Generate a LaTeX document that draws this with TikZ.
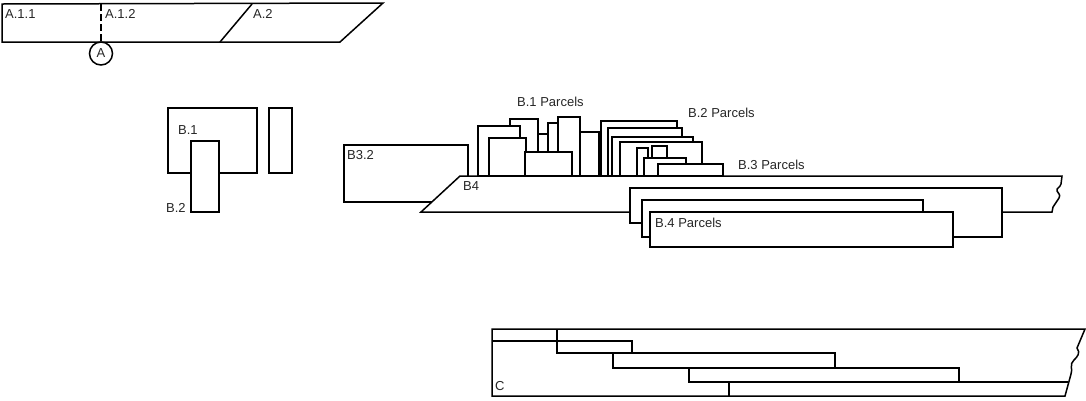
\documentclass[tikz,border=0pt]{standalone}
\usepackage{fontspec}
\setmainfont{Liberation Sans}
\usepackage{tikz}
\usetikzlibrary{calc}

\begin{document}
\begin{tikzpicture}[x=1pt,y=-1pt,
  edge/.style={line width=\LW},
  parcel/.style={draw,fill=white,line width=\LW},
  tag/.style={anchor=west,inner sep=0pt,text=black!85,
    font=\fontsize{13}{14}\selectfont}]
  % 単位は pt(画像の px と同じ)
  \def\LW{1.5pt}  % 線幅
  \def\Base{176}  % B4 上辺(区画の底)

  \useasboundingbox (0,0) rectangle (1086,400);

  % A 区画
  \draw[edge] (2,4) -- (383,3) -- (340,42) -- (2,42) -- cycle;
  \draw[edge] (252,4) -- (220,42);
  \node[draw,circle,line width=\LW,minimum size=23pt,inner sep=0pt,
    text=black!85,font=\fontsize{13}{14}\selectfont] (pA) at (101,53.5) {A};
  \coordinate (aTop) at (101,4);
  \draw[edge,dash pattern=on 7pt off 3pt] (aTop) -- (pA);
  \node[tag] (a11) at (5,14)   {A.1.1};
  \node[tag] (a12) at (105,14) {A.1.2};
  \node[tag] (a2)  at (253,14) {A.2};

  % B.1 / B.2
  \filldraw[parcel] (168,108) rectangle (257,173);
  \filldraw[parcel] (191,141) rectangle (219,212);
  \filldraw[parcel] (269,108) rectangle (292,173);
  \node[tag] (b1) at (178,130) {B.1};
  \node[tag] (b2) at (166,208) {B.2};

  % B3.2 と B4(右端は破断線)
  \filldraw[parcel] (344,145) rectangle (468,202);
  \filldraw[parcel] (460,\Base) -- (1062,\Base) -- (1061,184)
    .. controls (1060,188) and (1056,188) .. (1057,191)
    .. controls (1058,194) and (1061,194) .. (1059,198)
    -- (1053,207) -- (1052,212) -- (421,212) -- cycle;
  \node[tag] (b32) at (347,155) {B3.2};
  \node[tag] (b4)  at (463,186) {B4};

  % B.1 Parcels(奥から順に)
  \foreach \xa/\ya/\xb in {510/119/538, 538/134/548, 548/123/558,
      558/117/580, 580/132/599, 478/126/520, 489/138/526, 525/152/572}
    \filldraw[parcel] (\xa,\ya) rectangle (\xb,\Base);

  % B.2 / B.3 Parcels
  \foreach \xa/\ya/\xb in {601/121/677, 608/128/682, 612/137/693,
      620/142/702, 637/148/648, 652/146/667, 644/158/686, 658/164/723}
    \filldraw[parcel] (\xa,\ya) rectangle (\xb,\Base);

  \node[tag] (pB1) at (517,102) {B.1 Parcels};
  \node[tag] (pB2) at (688,113) {B.2 Parcels};
  \node[tag] (pB3) at (738,165) {B.3 Parcels};

  % B.4 Parcels
  \filldraw[parcel] (630,188) -- (1002,188) -- (1002,237) -- (642,237)
    -- (642,223) -- (630,223) -- cycle;
  \filldraw[parcel] (642,200) rectangle (923,237);
  \filldraw[parcel] (650,212) rectangle (953,247);
  \node[tag] (pB4) at (655,223) {B.4 Parcels};

  % C
  \draw[edge] (492,329) -- (1085,329) -- (1077,348)
    .. controls (1081,353) and (1077,357) .. (1074,360)
    .. controls (1069,364) and (1073,370) .. (1071,374)
    -- (1065,396) -- (492,396) -- cycle;
  \draw[edge] (492,341) -- (632,341) -- (632,353);
  \draw[edge] (557,329) -- (557,353) -- (835,353) -- (835,368);
  \draw[edge] (613,353) -- (613,368) -- (959,368) -- (959,382);
  \draw[edge] (689,368) -- (689,382) -- (1068,382);
  \draw[edge] (729,382) -- (729,396);
  \node[tag] (c) at (495,386) {C};
\end{tikzpicture}
\end{document}
